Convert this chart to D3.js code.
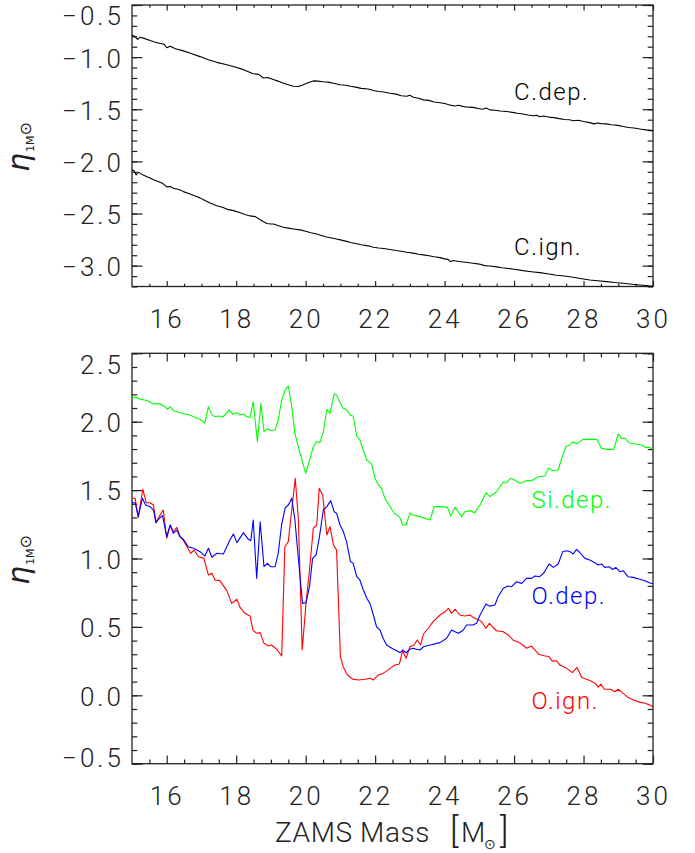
<!DOCTYPE html>
<html><head><meta charset="utf-8">
<script src="https://cdn.jsdelivr.net/npm/d3@7"></script>
<style>
html,body{margin:0;padding:0;background:#fff;}
svg{display:block;}
.tl{font-family:Roboto,"Open Sans",sans-serif;font-weight:300;font-size:26px;fill:#222;letter-spacing:3px;}
.lg{font-family:Roboto,"Open Sans",sans-serif;font-weight:300;font-size:24px;letter-spacing:1.5px;}
.tt{font-family:Roboto,"Open Sans",sans-serif;font-weight:300;fill:#222;}
</style></head>
<body>
<svg id="c" width="695" height="853"></svg>
<script>
// ---------------- data ----------------
const xTicks = [16, 18, 20, 22, 24, 26, 28, 30];
const yTicksTop = [-3.0, -2.5, -2.0, -1.5, -1.0, -0.5];
const yTicksBottom = [-0.5, 0.0, 0.5, 1.0, 1.5, 2.0, 2.5];

const massCdep = [15.0,15.08,15.16,15.23,15.35,15.52,15.65,15.81,15.92,16.0,16.1,16.25,16.48,16.7,16.96,17.2,17.44,17.7,17.92,18.21,18.35,18.49,18.65,18.78,18.9,19.07,19.2,19.36,19.5,19.64,19.79,19.9,20.03,20.22,20.35,20.5,20.65,20.8,20.99,21.15,21.3,21.47,21.6,21.8,21.95,22.1,22.25,22.43,22.6,22.75,22.91,23.0,23.1,23.25,23.39,23.55,23.7,23.87,24.0,24.15,24.3,24.4,24.55,24.7,24.82,25.0,25.1,25.2,25.3,25.45,25.6,25.79,25.95,26.1,26.26,26.4,26.55,26.65,26.74,26.85,27.0,27.15,27.3,27.45,27.6,27.7,27.85,28.0,28.18,28.3,28.4,28.5,28.66,28.8,28.95,29.14,29.3,29.45,29.62,29.8,30.0];
const etaCdep = [-0.79,-0.80,-0.83,-0.81,-0.82,-0.84,-0.855,-0.87,-0.875,-0.91,-0.895,-0.92,-0.94,-0.965,-0.995,-1.025,-1.05,-1.07,-1.09,-1.12,-1.14,-1.16,-1.165,-1.20,-1.195,-1.215,-1.23,-1.25,-1.265,-1.28,-1.282,-1.27,-1.25,-1.228,-1.23,-1.236,-1.24,-1.25,-1.265,-1.27,-1.28,-1.29,-1.30,-1.305,-1.32,-1.33,-1.335,-1.346,-1.355,-1.37,-1.375,-1.365,-1.385,-1.395,-1.41,-1.415,-1.43,-1.437,-1.445,-1.46,-1.468,-1.462,-1.475,-1.48,-1.482,-1.495,-1.50,-1.488,-1.506,-1.51,-1.517,-1.522,-1.53,-1.538,-1.545,-1.555,-1.562,-1.558,-1.572,-1.565,-1.575,-1.58,-1.59,-1.598,-1.60,-1.61,-1.605,-1.618,-1.628,-1.64,-1.632,-1.638,-1.64,-1.648,-1.652,-1.666,-1.675,-1.68,-1.69,-1.698,-1.705];

const massCign = [15.0,15.06,15.12,15.18,15.24,15.32,15.45,15.52,15.65,15.81,15.9,16.0,16.1,16.19,16.35,16.48,16.65,16.8,16.96,17.1,17.25,17.44,17.6,17.75,17.92,18.1,18.25,18.4,18.55,18.69,18.88,19.0,19.07,19.2,19.36,19.5,19.65,19.84,20.0,20.15,20.32,20.45,20.6,20.75,20.89,21.0,21.15,21.3,21.47,21.6,21.8,21.95,22.1,22.25,22.43,22.6,22.75,22.91,23.1,23.25,23.39,23.55,23.7,23.87,24.0,24.1,24.16,24.25,24.4,24.6,24.82,25.0,25.15,25.3,25.5,25.65,25.79,26.0,26.26,26.5,26.74,27.0,27.22,27.45,27.7,27.95,28.18,28.4,28.66,28.9,29.14,29.4,29.62,29.8,30.0];
const etaCign = [-2.08,-2.09,-2.13,-2.104,-2.115,-2.13,-2.15,-2.16,-2.18,-2.20,-2.215,-2.245,-2.24,-2.257,-2.27,-2.29,-2.31,-2.33,-2.35,-2.375,-2.40,-2.425,-2.44,-2.46,-2.472,-2.49,-2.51,-2.523,-2.53,-2.56,-2.595,-2.60,-2.60,-2.615,-2.632,-2.64,-2.648,-2.657,-2.67,-2.685,-2.696,-2.71,-2.725,-2.735,-2.745,-2.753,-2.765,-2.778,-2.79,-2.80,-2.81,-2.823,-2.83,-2.835,-2.845,-2.855,-2.862,-2.871,-2.88,-2.89,-2.897,-2.905,-2.915,-2.923,-2.935,-2.94,-2.962,-2.95,-2.96,-2.968,-2.977,-2.985,-3.0,-3.003,-3.012,-3.02,-3.025,-3.035,-3.048,-3.058,-3.067,-3.08,-3.092,-3.10,-3.111,-3.125,-3.137,-3.145,-3.153,-3.162,-3.169,-3.178,-3.185,-3.19,-3.198];

const massSi = [15.0,15.09,15.23,15.43,15.62,15.81,15.95,16.02,16.1,16.2,16.38,16.55,16.67,16.77,16.96,17.1,17.2,17.3,17.39,17.49,17.63,17.8,17.9,18.02,18.11,18.21,18.3,18.4,18.49,18.61,18.71,18.8,18.9,18.99,19.12,19.21,19.31,19.41,19.5,19.6,19.69,19.84,20.0,20.13,20.22,20.32,20.41,20.51,20.61,20.7,20.82,20.89,20.99,21.08,21.18,21.28,21.37,21.47,21.56,21.66,21.76,21.9,22.0,22.09,22.19,22.28,22.43,22.57,22.7,22.79,22.89,23.0,23.1,23.29,23.58,23.7,23.87,24.08,24.18,24.3,24.49,24.58,24.73,24.87,25.02,25.19,25.3,25.5,25.69,25.79,25.9,26.05,26.17,26.36,26.5,26.7,26.89,26.98,27.13,27.27,27.37,27.49,27.61,27.7,27.8,27.99,28.18,28.38,28.52,28.66,28.87,29.0,29.09,29.19,29.33,29.53,29.67,29.79,29.89,30.0];
const etaSi = [2.17,2.18,2.165,2.155,2.13,2.13,2.11,2.09,2.11,2.08,2.065,2.055,2.049,2.037,2.018,1.99,2.11,2.05,2.037,2.042,2.037,2.086,2.054,2.066,2.049,2.056,2.037,2.031,2.146,1.854,2.134,1.927,1.951,1.934,1.939,2.012,2.159,2.232,2.261,2.11,1.915,1.769,1.623,1.732,1.817,1.854,1.847,1.927,2.091,2.061,2.202,2.195,2.14,2.098,2.088,2.049,2.04,1.895,1.866,1.793,1.72,1.69,1.586,1.537,1.513,1.44,1.379,1.325,1.306,1.245,1.245,1.33,1.318,1.306,1.281,1.379,1.379,1.374,1.311,1.374,1.306,1.342,1.35,1.335,1.391,1.481,1.452,1.488,1.561,1.554,1.586,1.57,1.55,1.569,1.569,1.598,1.603,1.659,1.642,1.647,1.732,1.817,1.83,1.854,1.837,1.871,1.871,1.871,1.805,1.798,1.798,1.91,1.878,1.878,1.842,1.835,1.83,1.812,1.812,1.80];

const massOdep = [15.0,15.09,15.18,15.3,15.39,15.52,15.62,15.69,15.79,15.88,16.0,16.1,16.19,16.29,16.38,16.48,16.62,16.77,16.96,17.1,17.2,17.3,17.44,17.63,17.82,17.92,18.02,18.21,18.35,18.42,18.49,18.59,18.69,18.8,18.9,18.99,19.12,19.21,19.31,19.41,19.5,19.6,19.69,19.82,19.91,20.01,20.11,20.2,20.3,20.39,20.51,20.61,20.72,20.82,20.89,20.99,21.08,21.18,21.29,21.37,21.47,21.56,21.66,21.76,21.85,21.95,22.04,22.14,22.23,22.33,22.48,22.62,22.72,22.79,22.89,23.0,23.1,23.19,23.29,23.39,23.58,23.87,24.06,24.2,24.3,24.4,24.54,24.63,24.82,24.92,25.02,25.19,25.29,25.45,25.54,25.69,25.83,25.93,26.07,26.22,26.36,26.5,26.6,26.74,26.86,27.01,27.13,27.27,27.4,27.51,27.61,27.7,27.8,27.9,28.04,28.18,28.33,28.42,28.52,28.61,28.74,28.84,28.93,29.05,29.14,29.28,29.43,29.62,29.77,29.89,30.0];
const etaOdep = [1.408,1.408,1.306,1.44,1.391,1.379,1.354,1.262,1.294,1.313,1.159,1.245,1.184,1.208,1.159,1.14,1.086,1.075,1.05,1.018,1.075,1.009,1.038,1.033,1.135,1.179,1.116,1.189,1.14,1.13,1.281,0.855,1.269,0.94,0.965,0.94,0.94,1.038,1.25,1.37,1.391,1.44,1.281,0.916,0.672,0.677,0.794,1.001,1.026,1.148,1.355,1.379,1.423,1.342,1.33,1.245,1.20,1.12,0.977,0.965,0.867,0.843,0.77,0.709,0.672,0.587,0.501,0.477,0.417,0.368,0.344,0.326,0.311,0.331,0.311,0.336,0.344,0.336,0.331,0.355,0.368,0.385,0.417,0.477,0.465,0.453,0.477,0.514,0.514,0.526,0.587,0.667,0.652,0.66,0.721,0.782,0.799,0.794,0.83,0.818,0.855,0.855,0.872,0.867,0.896,0.96,0.935,0.96,1.05,1.057,1.05,1.033,1.067,1.042,1.001,0.989,0.969,0.952,0.96,0.935,0.94,0.92,0.935,0.903,0.911,0.867,0.862,0.848,0.838,0.823,0.815];

const massOign = [15.0,15.09,15.18,15.31,15.41,15.52,15.62,15.69,15.79,15.9,16.0,16.1,16.19,16.29,16.38,16.5,16.69,16.79,16.91,17.07,17.2,17.3,17.39,17.53,17.73,17.87,18.02,18.11,18.25,18.4,18.48,18.59,18.69,18.8,18.93,19.02,19.17,19.31,19.4,19.5,19.62,19.7,19.79,19.9,20.01,20.11,20.22,20.32,20.39,20.49,20.61,20.7,20.8,20.89,21.0,21.08,21.2,21.35,21.52,21.71,21.85,21.95,22.09,22.23,22.43,22.57,22.7,22.79,22.89,23.0,23.12,23.21,23.31,23.39,23.53,23.67,23.87,24.01,24.11,24.2,24.3,24.44,24.58,24.73,24.82,24.95,25.07,25.19,25.29,25.42,25.5,25.69,25.83,25.98,26.17,26.36,26.5,26.72,26.9,27.0,27.1,27.22,27.32,27.51,27.68,27.81,27.95,28.2,28.35,28.42,28.5,28.6,28.78,28.9,29.0,29.14,29.28,29.43,29.62,29.77,29.9,30.0];
const etaOign = [1.44,1.44,1.301,1.506,1.408,1.408,1.391,1.262,1.31,1.354,1.148,1.245,1.196,1.228,1.165,1.123,1.038,1.062,1.013,1.001,0.879,0.892,0.843,0.838,0.765,0.672,0.702,0.643,0.599,0.58,0.477,0.453,0.458,0.38,0.36,0.368,0.336,0.287,1.086,1.123,1.403,1.586,1.29,0.331,0.672,0.916,1.221,1.245,1.513,1.464,1.172,1.233,1.099,1.062,0.282,0.209,0.15,0.118,0.112,0.117,0.124,0.112,0.148,0.16,0.197,0.221,0.229,0.326,0.27,0.355,0.368,0.404,0.368,0.448,0.49,0.538,0.587,0.611,0.636,0.599,0.629,0.587,0.58,0.587,0.57,0.555,0.538,0.49,0.526,0.49,0.472,0.465,0.441,0.402,0.383,0.344,0.36,0.298,0.287,0.284,0.25,0.253,0.221,0.197,0.166,0.204,0.13,0.107,0.085,0.06,0.082,0.044,0.044,0.026,0.044,0.014,-0.015,-0.035,-0.05,-0.058,-0.07,-0.085];

// ---------------- drawing ----------------
const svg = d3.select("#c");
const X0 = 132, X1 = 653;
const x = d3.scaleLinear().domain([15, 30]).range([X0, X1]);
const yTop = d3.scaleLinear().domain([-3.2, -0.5]).range([286.5, 5]);
const yBot = d3.scaleLinear().domain([-0.5, 2.5]).range([763.7, 353.3]);
const fmt = d3.format(".1f");
const ink = "#222";

function range(a, b, s) { const r = []; for (let v = a; v <= b + 1e-9; v += s) r.push(+v.toFixed(3)); return r; }
const xMinor = range(15.5, 29.5, 0.5).filter(v => Math.abs(v / 2 - Math.round(v / 2)) > 1e-6);

function panel(y, yMajor, yMinorVals, xTickLen, topLabelShift, botLabelShift) {
  const [yb, yt] = y.range();
  const g = svg.append("g");
  const gb = g.append("g").attr("transform", `translate(0,${yb})`);
  gb.call(d3.axisBottom(x).tickValues(xTicks).tickSize(-xTickLen).tickPadding(23).tickFormat(d3.format("d")));
  gb.append("g").call(d3.axisBottom(x).tickValues(xMinor).tickSize(-xTickLen / 2).tickFormat(""));
  const gt = g.append("g").attr("transform", `translate(0,${yt})`);
  gt.call(d3.axisTop(x).tickValues(xTicks).tickSize(-xTickLen).tickFormat(""));
  gt.append("g").call(d3.axisTop(x).tickValues(xMinor).tickSize(-xTickLen / 2).tickFormat(""));
  const gl = g.append("g").attr("transform", `translate(${X0},0)`);
  gl.call(d3.axisLeft(y).tickValues(yMajor).tickSize(-10.5).tickPadding(8).tickFormat(fmt));
  gl.append("g").call(d3.axisLeft(y).tickValues(yMinorVals).tickSize(-5.3).tickFormat(""));
  const gr = g.append("g").attr("transform", `translate(${X1},0)`);
  gr.call(d3.axisRight(y).tickValues(yMajor).tickSize(-10.5).tickFormat(""));
  gr.append("g").call(d3.axisRight(y).tickValues(yMinorVals).tickSize(-5.3).tickFormat(""));

  g.selectAll(".domain").remove();
  g.selectAll(".tick line").attr("stroke", ink).attr("stroke-width", 1.2);
  g.selectAll(".tick text").attr("class", "tl").attr("fill", ink);
  g.selectAll("g").attr("font-size", null).attr("font-family", null);
  gl.selectAll(".tick text").attr("dy", "0.38em");
  gl.selectAll(".tick").filter(d => Math.abs(y(d) - yt) < 1).select("text").attr("y", topLabelShift);
  gl.selectAll(".tick").filter(d => Math.abs(y(d) - yb) < 1).select("text").attr("y", botLabelShift);
  g.append("rect").attr("x", X0).attr("y", yt).attr("width", X1 - X0).attr("height", yb - yt)
    .attr("fill", "none").attr("stroke", ink).attr("stroke-width", 1.3);
  return g;
}

panel(yTop, yTicksTop, range(-3.2, -0.5, 0.1), 5.6, 10, 0);
panel(yBot, yTicksBottom, range(-0.5, 2.5, 0.1), 8.2, 10, -7);

function drawLine(ms, vs, y, color) {
  const data = ms.map((m, i) => [m, vs[i]]);
  svg.append("path").datum(data)
    .attr("fill", "none").attr("stroke", color).attr("stroke-width", 1.1)
    .attr("stroke-linejoin", "round")
    .attr("d", d3.line().x(d => x(d[0])).y(d => y(d[1])));
}
drawLine(massCdep, etaCdep, yTop, "#000");
drawLine(massCign, etaCign, yTop, "#000");
drawLine(massSi, etaSi, yBot, "#00ff00");
drawLine(massOign, etaOign, yBot, "#ff0000");
drawLine(massOdep, etaOdep, yBot, "#0000ff");

// curve labels (anchored in data coordinates)
const labels = [
  {t: "C.dep.", m: 26.0, v: -1.41, y: yTop, c: "#000"},
  {t: "C.ign.", m: 26.0, v: -2.898, y: yTop, c: "#000"},
  {t: "Si.dep.", m: 26.5, v: 1.367, y: yBot, c: "#00ff00"},
  {t: "O.dep.", m: 26.5, v: 0.667, y: yBot, c: "#0000ff"},
  {t: "O.ign.", m: 26.5, v: -0.1, y: yBot, c: "#ff0000"}
];
labels.forEach(l => {
  svg.append("text").attr("class", "lg").attr("x", x(l.m)).attr("y", l.y(l.v)).attr("fill", l.c).text(l.t);
});

// axis titles
function etaTitle(cx, cy) {
  const t = svg.append("text").attr("transform", `translate(${cx},${cy}) rotate(-90)`)
    .attr("text-anchor", "middle").attr("fill", ink)
    .style("font-family", "'DejaVu Sans', sans-serif");
  t.append("tspan").attr("font-size", 30).attr("font-style", "italic").text("η");
  t.append("tspan").attr("font-size", 11).attr("dy", 5).attr("dx", 1).text("1M");
  t.append("tspan").attr("font-size", 16).attr("dy", -3).text("⊙");
}
etaTitle(29, 147);
etaTitle(29, 560);

const xt = svg.append("g").attr("class", "tt");
xt.append("text").attr("x", 275).attr("y", 841.5).attr("font-size", 28).style("letter-spacing", "0.6px").text("ZAMS Mass");
xt.append("text").attr("x", 450).attr("y", 843).attr("font-size", 35).text("[");
xt.append("text").attr("x", 461).attr("y", 841.5).attr("font-size", 28).text("M");
xt.append("text").attr("x", 484).attr("y", 849).attr("font-size", 14).style("font-family", "'DejaVu Sans', sans-serif").text("⊙");
xt.append("text").attr("x", 500).attr("y", 843).attr("font-size", 35).text("]");
</script>
</body></html>
